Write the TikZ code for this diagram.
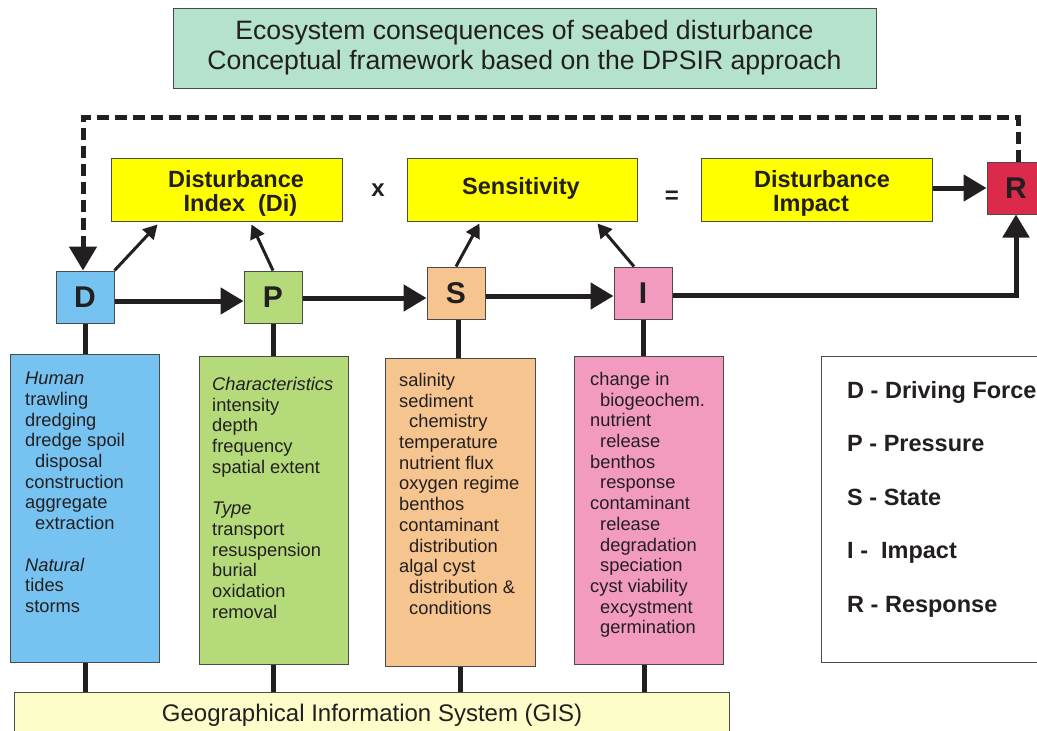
\documentclass[tikz,border=0pt]{standalone}
\usepackage{fontspec}
\setmainfont{Liberation Sans}
\usetikzlibrary{arrows.meta,calc}
\definecolor{txt}{HTML}{231F20}
\definecolor{mint}{HTML}{B4E2CD}
\definecolor{yel}{HTML}{FFFF00}
\definecolor{rred}{HTML}{DC2A4B}
\definecolor{dblue}{HTML}{76C3F2}
\definecolor{pgreen}{HTML}{B4DA7A}
\definecolor{sorange}{HTML}{F5C48F}
\definecolor{ipink}{HTML}{F29BBF}
\definecolor{gisy}{HTML}{FDFDC9}
\definecolor{bord}{HTML}{4A4A4A}
\tikzset{
  box/.style={draw=bord, line width=1pt, inner sep=0pt, text=txt},
  letter/.style={box, minimum width=58pt, minimum height=52pt, font=\bfseries\fontsize{30}{30}\selectfont},
  ybox/.style={box, fill=yel, minimum width=231pt, minimum height=63pt},
  ytxt/.style={inner sep=0pt, align=center, text=txt, font=\bfseries\fontsize{23.5}{24}\selectfont},
  listbox/.style={box, minimum width=149pt, minimum height=308pt},
  listtxt/.style={anchor=north west, inner sep=0pt, align=left, text=txt, font=\fontsize{18.3}{20.7}\selectfont},
  thickarr/.style={line width=5pt, draw=txt, -{Triangle[length=23pt,width=26pt]}},
  thinarr/.style={line width=3pt, draw=txt, -{Triangle[length=14pt,width=15pt]}},
  conn/.style={line width=5pt, draw=txt},
  dashline/.style={line width=5pt, draw=txt, dash pattern=on 12pt off 6pt, -{Triangle[length=24pt,width=27pt]}},
}
\newcommand{\ind}{\hspace*{10pt}}
\begin{document}
\begin{tikzpicture}[x=1pt,y=-1pt]
\useasboundingbox (0,0) rectangle (1037,731);
\clip (0,0) rectangle (1037,731);
\fill[white] (0,0) rectangle (1037,731);

% title
\node[box, fill=mint, minimum width=703pt, minimum height=80pt, align=center, font=\fontsize{26.6}{30}\selectfont] (title) at (524.5,48) {Ecosystem consequences of seabed disturbance\\Conceptual framework based on the DPSIR approach};

% top row
\node[ybox] (DI) at (226.5,189.5) {};
\node[ytxt] (DIt) at (236,193) {Disturbance\\\hspace*{9pt}Index\ \ (Di)};
\node[ybox, minimum width=230pt] (SE) at (522,189.5) {};
\node[ytxt] (SEt) at (521,188) {Sensitivity};
\node[ybox] (DM) at (816.5,189.5) {};
\node[ytxt] (DMt) at (816.5,193) {\hspace*{11pt}Disturbance\\Impact\hspace*{11pt}};
\node[text=txt, font=\bfseries\fontsize{24}{24}\selectfont] (times) at (378,190) {x};
\node[text=txt, font=\bfseries\fontsize{24}{24}\selectfont] (eq) at (672,197) {=};
\node[letter, fill=rred] (R) at (1016,188) {R};

% letters
\node[letter, fill=dblue] (D) at (85,297) {D};
\node[letter, fill=pgreen] (P) at (273,297) {P};
\node[letter, fill=sorange] (S) at (456,293) {S};
\node[letter, fill=ipink] (I) at (643,293) {I};

% list boxes
\node[listbox, fill=dblue] (Dl) at (85,508) {};
\node[listbox, fill=pgreen] (Pl) at (273.5,510) {};
\node[listbox, fill=sorange, minimum width=150pt] (Sl) at (460,512) {};
\node[listbox, fill=ipink] (Il) at (648.5,510) {};

\node[listtxt] (Dt) at (25,372) {\itshape Human\\trawling\\dredging\\dredge spoil\\\ind disposal\\construction\\aggregate\\\ind extraction\\[20.7pt]\itshape Natural\\tides\\storms};
\node[listtxt] (Pt) at (212,377) {\itshape Characteristics\\intensity\\depth\\frequency\\spatial extent\\[20.7pt]\itshape Type\\transport\\resuspension\\burial\\oxidation\\removal};
\node[listtxt] (St) at (399,373) {salinity\\sediment\\\ind chemistry\\temperature\\nutrient flux\\oxygen regime\\benthos\\contaminant\\\ind distribution\\algal cyst\\\ind distribution \&\\\ind conditions};
\node[listtxt] (It) at (590,372) {change in\\\ind biogeochem.\\nutrient\\\ind release\\benthos\\\ind response\\contaminant\\\ind release\\\ind degradation\\\ind speciation\\cyst viability\\\ind excystment\\\ind germination};

% GIS
\node[box, fill=gisy, minimum width=715pt, minimum height=80pt] (GIS) at (371.5,732) {};
\node[text=txt, font=\fontsize{24}{24}\selectfont] (gist) at (372,715) {Geographical Information System (GIS)};

% legend
\node[box, fill=white, minimum width=240pt, minimum height=306pt] (leg) at (941,509) {};
\node[anchor=north west, inner sep=0pt, align=left, text=txt, font=\bfseries\fontsize{23.5}{53.5}\selectfont] (legt) at (847,381) {D - Driving Force\\P - Pressure\\S - State\\I -\ \ Impact\\R - Response};

% vertical connectors
\draw[conn] (D.south) -- (D.south |- Dl.north);
\draw[conn] (Dl.south) -- (Dl.south |- GIS.north);
\draw[conn] (P.south) -- (P.south |- Pl.north);
\draw[conn] (Pl.south) -- (Pl.south |- GIS.north);
\draw[conn] ([xshift=2pt]S.south) -- ([xshift=2pt]S.south |- Sl.north);
\draw[conn] ([xshift=4pt]S.south |- Sl.south) -- ([xshift=4pt]S.south |- GIS.north);
\draw[conn] (I.south) -- (I.south |- Il.north);
\draw[conn] ([xshift=1pt]I.south |- Il.south) -- ([xshift=1pt]I.south |- GIS.north);

% main arrows
\draw[thickarr] ([yshift=-4pt]D.east) -- ([yshift=-4pt]P.west);
\draw[thickarr] ([yshift=-1pt]P.east) -- ([yshift=-5pt]S.west);
\draw[thickarr] ([yshift=-3pt]S.east) -- ([yshift=-3pt]I.west);
\draw[thickarr] ([yshift=-2pt]I.east) -| (R.south);
\draw[thickarr] ([yshift=1.5pt]DM.east) -- (R.west);

% thin arrows
\draw[thinarr] (D.north east) -- ($(DI.south west)+(47,3)$);
\draw[thinarr] (P.north) -- ($(DI.south west)+(141,3)$);
\draw[thinarr] (S.north) -- ($(SE.south west)+(73,2)$);
\draw[thinarr] ([xshift=-9pt]I.north) -- ($(SE.south west)+(191,2)$);

% dashed feedback
\coordinate (fb) at (0,117);
\draw[dashline] ([xshift=2pt]R.north) -- ([xshift=2pt]R.north |- fb) -| ([xshift=-2pt]D.north);
\end{tikzpicture}
\end{document}
